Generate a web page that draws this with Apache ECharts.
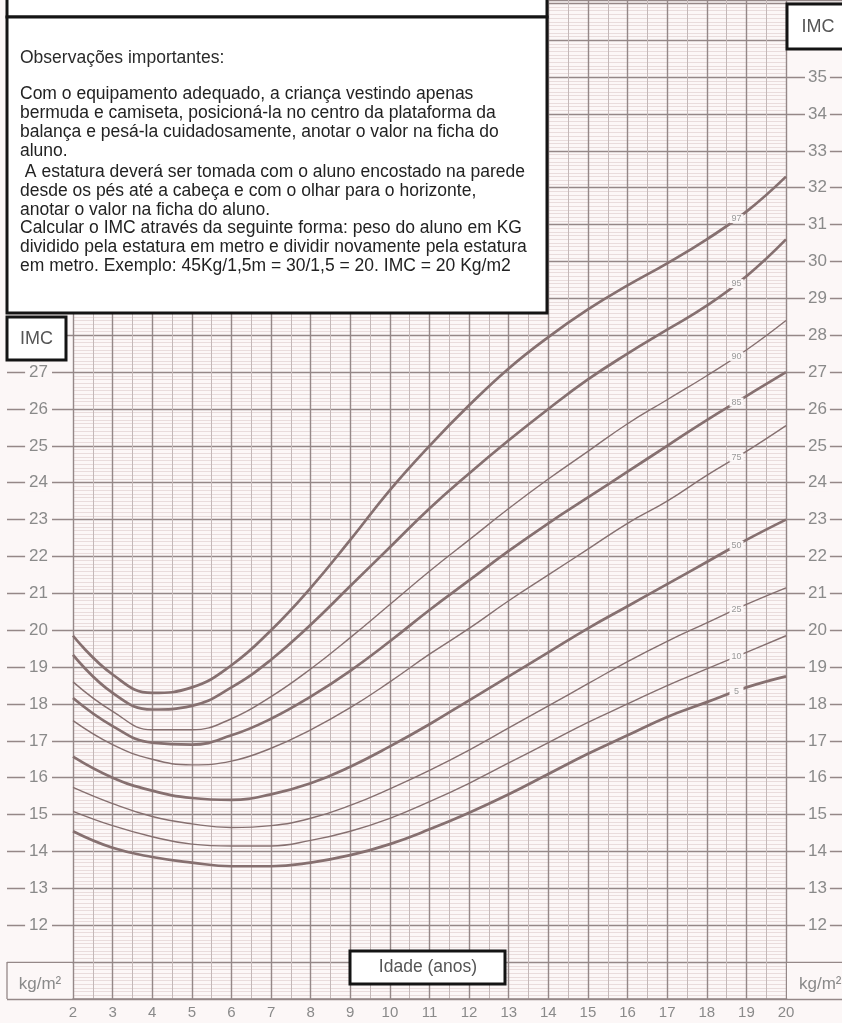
<!DOCTYPE html>
<html><head><meta charset="utf-8">
<script src="https://cdn.jsdelivr.net/npm/echarts@6/dist/echarts.min.js"></script>
<style>html,body{margin:0;padding:0;background:#fdfafa;}#c{width:842px;height:1023px;}</style>
</head><body><div id="c"></div>
<script>
// ---- data ----
const ages = [2,3,4,5,6,7,8,9,10,11,12,13,14,15,16,17,18,19,20];
const p97 = [19.85,18.8,18.3,18.45,19.05,20.0,21.15,22.45,23.8,25.0,26.1,27.1,27.95,28.7,29.35,29.95,30.6,31.35,32.3];
const p95 = [19.33,18.3,17.85,17.95,18.45,19.2,20.15,21.2,22.25,23.3,24.25,25.15,26.0,26.8,27.5,28.15,28.8,29.6,30.6];
const p90 = [18.6,17.8,17.3,17.3,17.6,18.2,18.95,19.8,20.7,21.6,22.45,23.3,24.1,24.85,25.6,26.25,26.9,27.6,28.4];
const p85 = [18.16,17.4,16.95,16.9,17.15,17.6,18.2,18.9,19.7,20.55,21.35,22.15,22.9,23.6,24.3,25.0,25.7,26.35,27.0];
const p75 = [17.55,16.9,16.5,16.35,16.45,16.8,17.3,17.9,18.6,19.35,20.05,20.8,21.5,22.2,22.9,23.5,24.2,24.85,25.55];
const p50 = [16.57,16.0,15.65,15.45,15.4,15.55,15.85,16.3,16.85,17.45,18.1,18.75,19.4,20.05,20.65,21.25,21.85,22.45,23.0];
const p25 = [15.74,15.3,14.95,14.75,14.65,14.7,14.9,15.25,15.7,16.2,16.75,17.35,17.95,18.55,19.15,19.7,20.2,20.7,21.15];
const p10 = [15.09,14.7,14.4,14.2,14.15,14.15,14.3,14.55,14.9,15.35,15.85,16.4,16.95,17.5,18.0,18.5,18.95,19.4,19.85];
const p5  = [14.55,14.1,13.85,13.7,13.6,13.6,13.7,13.9,14.2,14.6,15.05,15.55,16.1,16.65,17.15,17.65,18.05,18.45,18.75];
const curveNames = ['97','95','90','85','75','50','25','10','5'];
const curveData = [p97,p95,p90,p85,p75,p50,p25,p10,p5];
const curveThick = [true,true,false,true,false,true,false,false,true];
const xTickLabels = ages;
const leftYLabels = [12,13,14,15,16,17,18,19,20,21,22,23,24,25,26,27];
const rightYLabels = [12,13,14,15,16,17,18,19,20,21,22,23,24,25,26,27,28,29,30,31,32,33,34,35];
const axisTitle = 'IMC';
const unitText = 'kg/m²';
const xTitle = 'Idade (anos)';
const notesTitle = 'Observações importantes:';
const notesPara1 = [
  'Com o equipamento adequado, a criança vestindo apenas',
  'bermuda e camiseta, posicioná-la no centro da plataforma da',
  'balança e pesá-la cuidadosamente, anotar o valor na ficha do',
  'aluno.'
];
const notesPara2 = [
  ' A estatura deverá ser tomada com o aluno encostado na parede',
  'desde os pés até a cabeça e com o olhar para o horizonte,',
  'anotar o valor na ficha do aluno.',
  'Calcular o IMC através da seguinte forma: peso do aluno em KG',
  'dividido pela estatura em metro e dividir novamente pela estatura',
  'em metro. Exemplo: 45Kg/1,5m = 30/1,5 = 20. IMC = 20 Kg/m2'
];
const labelAge = 18.75;

// ---- styles ----
const BG = '#fcf7f7';
const CURVE = '#867070';
const MAJOR = '#958888';
const MINOR = '#e9dcdc';
const LABEL = '#8a8a8a';
const FONT = '"Liberation Sans", Arial, sans-serif';

const chart = echarts.init(document.getElementById('c'), null, {renderer:'canvas'});

function interp(arr, a){
  const i = Math.floor(a) - ages[0];
  const t = a - Math.floor(a);
  return arr[i] + (arr[i+1]-arr[i])*t;
}

const series = curveData.map((arr, k) => ({
  type: 'line',
  name: curveNames[k],
  data: ages.map((a,i)=>[a, arr[i]]),
  smooth: 0.45,
  symbol: 'none',
  z: 3,
  lineStyle: {color: CURVE, width: curveThick[k] ? 2.7 : 1.4},
  markPoint: {
    silent: true,
    symbol: 'rect',
    symbolSize: [14, 9],
    itemStyle: {color: BG},
    label: {show: true, position: 'inside', formatter: curveNames[k], fontSize: 9, color: '#9a9a9a', fontFamily: FONT},
    data: [{coord: [labelAge, interp(arr, labelAge)]}]
  }
}));

const LH = 18.8;
const boxStroke = {stroke: '#141414', lineWidth: 3, fill: '#ffffff'};
const graphics = [
  {type:'rect', shape:{x:7,y:-4,width:540,height:21}, style: boxStroke, z: 100},
  {type:'rect', shape:{x:7,y:17,width:540,height:296}, style: boxStroke, z: 100},
  {type:'text', x:20, y:49, z:101, style:{text: notesTitle, font: '17.5px ' + FONT, fill:'#2a2a2a', textVerticalAlign:'top'}},
  {type:'text', x:20, y:85, z:101, style:{text: notesPara1.join('\n'), font: '17.5px ' + FONT, fill:'#222', lineHeight: LH, textVerticalAlign:'top'}},
  {type:'text', x:20, y:85 + 4*LH + 2.5, z:101, style:{text: notesPara2.join('\n'), font: '17.5px ' + FONT, fill:'#222', lineHeight: LH, textVerticalAlign:'top'}},
  {type:'rect', shape:{x:7,y:317,width:59,height:43}, style: boxStroke, z: 100},
  {type:'text', x:36.5, y:339, z:101, style:{text: axisTitle, font: '18px ' + FONT, fill:'#555', align:'center', verticalAlign:'middle'}},
  {type:'rect', shape:{x:787,y:4,width:62,height:45}, style: boxStroke, z: 100},
  {type:'text', x:818, y:27, z:101, style:{text: axisTitle, font: '18px ' + FONT, fill:'#555', align:'center', verticalAlign:'middle'}},
  {type:'rect', shape:{x:350,y:951,width:155,height:33}, style: boxStroke, z: 100},
  {type:'text', x:428, y:967.5, z:101, style:{text: xTitle, font: '17.5px ' + FONT, fill:'#555', align:'center', verticalAlign:'middle'}},
  {type:'line', shape:{x1:7,y1:962,x2:7,y2:999}, style:{stroke: MAJOR, lineWidth:1.3}, z: 50},
  {type:'rect', shape:{x:8,y:963,width:64,height:35}, style:{fill: BG}, z: 40},
  {type:'rect', shape:{x:787,y:963,width:60,height:35}, style:{fill: BG}, z: 40},
  {type:'text', x:40, y:984, z:51, style:{text: unitText, font: '17px ' + FONT, fill: LABEL, align:'center', verticalAlign:'middle'}},
  {type:'text', x:799, y:984, z:51, style:{text: unitText, font: '17px ' + FONT, fill: LABEL, align:'left', verticalAlign:'middle'}}
];

const yMin = 10, yMax = 37.09;
const option = {
  backgroundColor: BG,
  animation: false,
  grid: {left: 73, right: 56, top: 0, bottom: 24, containLabel: false, outerBoundsMode: 'none', show: false},
  xAxis: {
    type: 'value', min: 2, max: 20, interval: 1,
    axisLine: {show: true, lineStyle: {color: MAJOR, width: 1.5}},
    axisTick: {show: false},
    axisLabel: {margin: 6, fontSize: 15, color: LABEL, fontFamily: FONT,
      formatter: v => xTickLabels.includes(v) ? String(v) : ''},
    splitLine: {show: true, lineStyle: {color: MAJOR, width: 1.4}},
    minorTick: {show: false, splitNumber: 2},
    minorSplitLine: {show: true, lineStyle: {color: '#c4b8b8', width: 1}}
  },
  yAxis: [
    {
      type: 'value', min: yMin, max: yMax, interval: 1, position: 'left',
      axisLine: {show: false},
      axisTick: {show: true, inside: false, length: 66, lineStyle: {color: MAJOR, width: 1.3}},
      axisLabel: {margin: 21, fontSize: 17, color: LABEL, fontFamily: FONT, backgroundColor: BG, padding: [0,4],
        formatter: v => leftYLabels.includes(v) ? String(v) : ''},
      splitLine: {show: true, lineStyle: {color: MAJOR, width: 1.3}},
      minorTick: {show: false, splitNumber: 10},
      minorSplitLine: {show: true, lineStyle: {color: MINOR, width: 1}}
    },
    {
      type: 'value', min: yMin, max: yMax, interval: 1, position: 'right',
      axisLine: {show: false},
      axisTick: {show: true, inside: false, length: 56, lineStyle: {color: MAJOR, width: 1.3}},
      axisLabel: {margin: 19, fontSize: 17, color: LABEL, fontFamily: FONT, backgroundColor: BG, padding: [0,3],
        formatter: v => rightYLabels.includes(v) ? String(v) : ''},
      splitLine: {show: false}
    }
  ],
  series: series,
  graphic: graphics
};
chart.setOption(option);
</script></body></html>
